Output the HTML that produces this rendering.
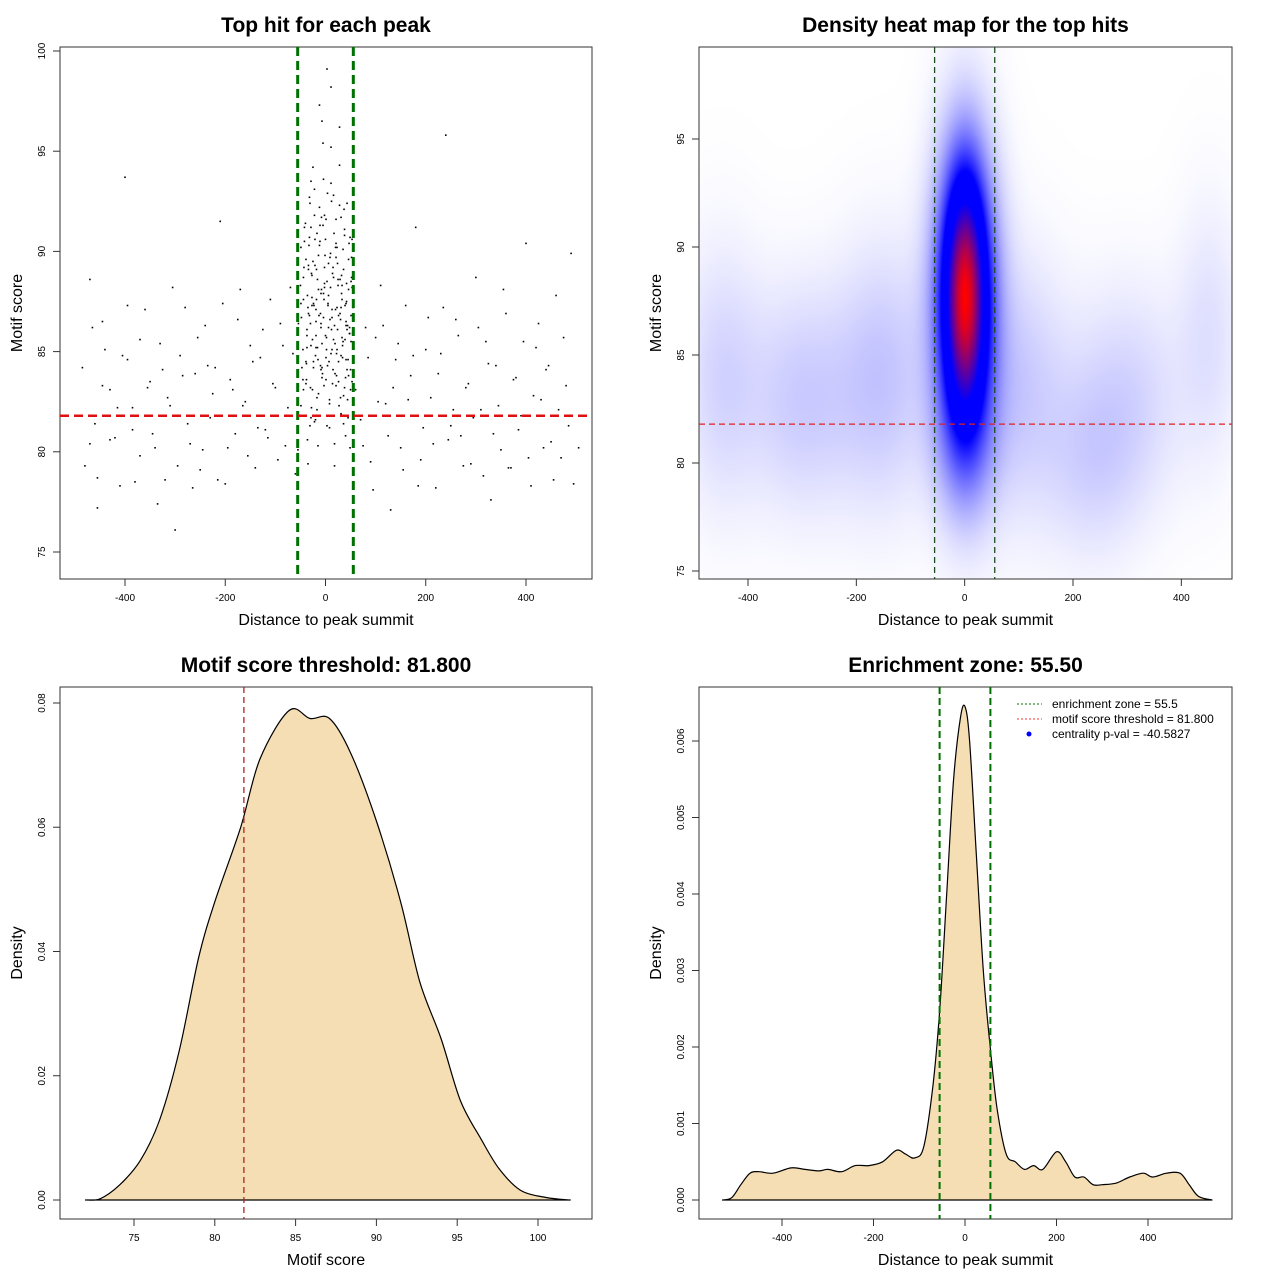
<!DOCTYPE html>
<html><head><meta charset="utf-8">
<style>
html,body{margin:0;padding:0;background:#fff;}
#wrap{position:relative;width:1280px;height:1280px;}
canvas{position:absolute;left:0;top:0;}
svg{position:absolute;left:0;top:0;}
text{font-family:"Liberation Sans",sans-serif;}
</style></head>
<body>
<div id="wrap">
<canvas id="heat" width="1280" height="1280"></canvas>
<svg id="svg" width="1280" height="1280" xmlns="http://www.w3.org/2000/svg"></svg>
</div>
<script>
// ---------- data ----------
const centerX1 = [-50,-45,-40,-38,-35,-32,-30,-28,-25,-22,-20,-18,-15,-12,-10,-8,-5,-3,0,2,5,8,10,12,15,18,20,22,25,28,30,32,35,38,40,42,45,48,50,52];
const centerY1 = [88.3,85.1,91.4,83.6,87.2,90.7,86.4,82.2,89.5,93.1,84.8,87.6,80.3,92.2,86.9,88.1,95.4,83.3,90.6,85.7,87.4,81.2,89.9,92.5,84.1,86.3,90.2,83.8,88.6,94.3,82.7,87.9,85.5,91.1,80.8,88.4,84.6,86.2,83.1,89.7];
const centerY1b = [86.7,89.2,84.4,87.8,90.3,83.2,88.9,85.6,87.3,81.6,89.1,85.2,86.8,84.3,91.7,83.9,87.6,89.8,85.1,92.9,84.5,88.2,86.1,83.4,90.9,87.1,84.9,89.4,82.3,86.6,88.8,85.3,92.1,83.7,87.5,86.3,90.4,84.1,88.7,85.9];
const centerX2 = [-47,-42,-37,-35,-32,-29,-27,-25,-22,-19,-17,-15,-12,-9,-7,-5,-2,0,3,5,8,11,13,15,18,21,23,25,28,31,33,35,38,41,43,45,48,51,53,55];
const centerY2 = [84.2,90.5,86.1,79.4,92.7,85.3,88.8,94.2,81.5,87.1,90.9,84.6,97.3,86.2,83.7,91.3,88.4,85.8,99.1,87.3,82.6,93.4,86.7,89.2,80.4,91.6,85.1,88.3,96.2,84.8,87.6,90.1,83.2,86.5,92.4,81.7,85.9,88.5,90.6,87.2];
const centerY2b = [87.4,83.1,89.6,85.2,86.9,81.3,91.2,87.7,84.5,89.3,85.8,82.7,88.1,90.5,86.4,84.2,87.9,91.8,83.6,88.5,86.2,89.7,84.9,87.1,92.8,85.4,83.3,90.2,86.8,88.6,81.9,85.7,89.1,87.3,84.6,86.1,83.8,90.7,85.5,88.2];
const centerX3 = [-54,-49,-44,-42,-39,-36,-34,-32,-29,-26,-24,-22,-19,-16,-14,-12,-9,-7,-4,-2,1,4,6,8,11,14,16,18,21,24,26,28,31,34,36,38,41,44,46,48];
const centerY3 = [86.4,82.3,88.7,91.2,84.5,80.6,89.3,86.8,93.5,83.1,87.4,91.8,85.2,88.6,82.9,90.3,84.1,96.5,86.7,89.2,91.6,84.3,87.8,82.4,95.2,88.9,85.6,79.3,89.7,86.1,83.5,92.3,87.2,84.7,81.4,90.8,86.3,82.6,88.1,85.9];
const centerX4 = [-49,-44,-39,-37,-34,-31,-29,-27,-24,-21,-19,-17,-14,-11,-9,-7,-4,-2,1,3,6,9,11,13,16,19,21,23,26,29,31,33,36,39,41,43,46,49,51,53];
const centerY4 = [90.2,87.6,83.4,85.8,89.1,92.4,81.7,87.3,84.2,90.6,86.5,82.1,89.8,91.3,87.9,85.4,93.6,88.2,84.7,81.3,89.4,86.6,98.2,85.1,88.7,83.9,90.4,87.2,84.5,86.9,91.7,88.3,82.8,85.6,87.4,84.1,89.6,80.2,86.8,83.5];
const bgX = [-485,-480,-470,-460,-455,-445,-430,-420,-410,-400,-395,-385,-370,-360,-350,-340,-330,-320,-310,-300,-290,-280,-270,-260,-250,-240,-230,-220,-210,-200,-190,-180,-170,-160,-150,-140,-130,-120,-110,-100,-90,-80,-70,-60,60,70,80,90,100,110,120,130,140,150,160,170,180,190,200,210,220,230,240,250,260,270,280,290,300,310,320,330,340,350,360,370,380,390,400,410,420,430,440,450,460,470,480,490];
const bgY = [84.2,79.3,88.6,81.4,77.2,86.5,83.1,80.7,78.3,93.7,84.6,82.2,79.8,87.1,83.5,80.2,85.4,78.6,82.3,76.1,84.8,87.2,80.4,83.9,79.1,86.3,81.7,84.2,91.5,78.4,83.6,80.9,88.1,82.5,85.3,79.2,84.7,81.1,87.6,83.2,86.4,80.3,88.2,78.9,83.1,81.6,86.2,79.5,85.7,88.3,82.4,77.1,84.6,80.2,87.3,83.8,91.2,79.6,85.1,82.7,78.2,84.9,95.8,81.3,86.6,80.8,83.2,79.4,88.7,82.1,85.5,77.6,84.3,80.1,86.9,79.2,83.7,81.8,90.4,78.3,85.2,82.6,84.1,80.5,87.8,79.7,83.3,89.9];
const bgY2 = [80.4,86.2,78.7,83.3,85.1,80.6,82.2,84.8,87.3,81.1,78.5,85.6,83.2,80.9,77.4,84.1,82.7,88.2,79.3,83.8,81.4,78.2,85.7,80.1,84.3,82.9,78.6,87.4,80.2,83.1,86.6,82.3,79.8,84.5,81.2,86.1,80.7,83.4,79.6,85.3,82.2,84.9,80.1,83.6,80.3,84.7,78.1,82.5,86.3,80.8,83.2,85.4,79.1,82.6,84.8,78.3,81.2,86.7,80.4,83.9,87.2,80.6,82.1,85.8,79.3,83.4,81.7,86.2,78.8,84.4,80.9,82.3,88.1,79.2,83.6,81.1,85.5,79.7,82.8,86.4,80.2,84.3,78.6,82.1,85.7,81.3,78.4,80.2];
// heatmap components
const blobX = [0, 0, -300, -150, 100, 300, 450, -450, 230, 0];
const blobY = [87.8, 87.5, 83, 84, 83.5, 83, 86, 84, 80, 81];
const blobSX = [24, 38, 70, 60, 60, 70, 40, 50, 60, 40];
const blobSY = [3.5, 4.6, 3.5, 4, 4, 3.5, 4, 4, 3, 2.5];
const blobW = [1.0, 0.65, 0.09, 0.1, 0.09, 0.07, 0.05, 0.07, 0.06, 0.12];
// motif score density
const scoreGrid = [72,72.9,74.1,75.4,76.6,77.8,79,80,81.6,82.8,84.6,85.9,87.1,88.4,90,91.5,92.7,94,95.2,96.5,97.6,98.9,100.5,102];
const scoreDens = [0,0.0002,0.0024,0.0064,0.013,0.024,0.039,0.048,0.06,0.071,0.0788,0.0775,0.0775,0.072,0.061,0.048,0.035,0.026,0.016,0.0097,0.005,0.0016,0.0004,0];
// distance density
const distGrid = [-530,-510,-490,-470,-450,-420,-380,-350,-320,-300,-270,-240,-210,-180,-150,-130,-110,-90,-70,-55,-40,-25,-10,0,10,25,40,55,70,90,110,130,150,170,200,220,240,260,280,300,330,360,390,410,440,470,490,510,540];
const distDens = [0,0.00003,0.0002,0.00035,0.00037,0.00035,0.00042,0.0004,0.00038,0.0004,0.00037,0.00045,0.00045,0.0005,0.00065,0.0006,0.00055,0.0007,0.0015,0.0025,0.004,0.0055,0.0063,0.00645,0.006,0.0045,0.003,0.002,0.0012,0.0006,0.0005,0.0004,0.00045,0.0004,0.00063,0.0005,0.0003,0.0003,0.0002,0.0002,0.00022,0.0003,0.00035,0.0003,0.00035,0.00035,0.0002,0.00005,0];
const zone = 55.5, threshold = 81.8;
const xTicksDist = [-400,-200,0,200,400];
const yTicksP1 = [75,80,85,90,95,100];
const yTicksP2 = [75,80,85,90,95];
const xTicksScore = [75,80,85,90,95,100];
const yTicksP3 = [0,0.02,0.04,0.06,0.08];
const yTicksP4 = [0,0.001,0.002,0.003,0.004,0.005,0.006];

// ---------- helpers ----------
const NS="http://www.w3.org/2000/svg";
const svg=document.getElementById('svg');
function el(tag,attrs,parent){const e=document.createElementNS(NS,tag);for(const k in attrs)e.setAttribute(k,attrs[k]);(parent||svg).appendChild(e);return e;}
function lin(d0,d1,r0,r1){return v=>r0+(v-d0)*(r1-r0)/(d1-d0);}
function smoothPath(pts){let d='M'+pts[0][0].toFixed(1)+','+pts[0][1].toFixed(1);
  for(let i=0;i<pts.length-1;i++){const p0=pts[Math.max(0,i-1)],p1=pts[i],p2=pts[i+1],p3=pts[Math.min(pts.length-1,i+2)];
    const c1=[p1[0]+(p2[0]-p0[0])/6,p1[1]+(p2[1]-p0[1])/6],c2=[p2[0]-(p3[0]-p1[0])/6,p2[1]-(p3[1]-p1[1])/6];
    d+=` C${c1[0].toFixed(1)},${c1[1].toFixed(1)} ${c2[0].toFixed(1)},${c2[1].toFixed(1)} ${p2[0].toFixed(1)},${p2[1].toFixed(1)}`;}
  return d;}
function panel(name,L,T,R,B,sx,sy,xt,yt,xfmt,yfmt,title,xlab,ylab){
  const g=el('g',{});
  
  
  const box=el('rect',{x:L,y:T,width:R-L,height:B-T,fill:'none',stroke:'#333','stroke-width':1},g);
  
  const xa=el('g',{},g);
  xt.forEach(v=>{const x=sx(v);el('line',{x1:x,x2:x,y1:B,y2:B+7,stroke:'#333'},xa);
    const t=el('text',{x:x,y:B+22,'font-size':10,'text-anchor':'middle',fill:'#000'},xa);t.textContent=xfmt(v);
    });
  const ya=el('g',{},g);
  yt.forEach(v=>{const y=sy(v);el('line',{x1:L-7,x2:L,y1:y,y2:y,stroke:'#333'},ya);
    const t=el('text',{x:L-15,y:y,'font-size':10,'text-anchor':'middle',fill:'#000',transform:`rotate(-90 ${L-15} ${y})`},ya);t.textContent=yfmt(v);
    });
  const tt=el('text',{x:(L+R)/2,y:T-15,'font-size':21,'font-weight':'bold','text-anchor':'middle'},g);tt.textContent=title;
  
  const xl=el('text',{x:(L+R)/2,y:B+46,'font-size':16,'text-anchor':'middle'},g);xl.textContent=xlab;
  
  const yx=L-38,yy=(T+B)/2;
  const yl=el('text',{x:yx,y:yy,'font-size':16,'text-anchor':'middle',transform:`rotate(-90 ${yx} ${yy})`},g);yl.textContent=ylab;
  
  return g;
}
const I=v=>String(v);

// ---------- panel 1 ----------
{
const L=60,T=47,R=592,B=579;
const sx=lin(-400,400,125,526), sy=lin(75,100,552,51);
const g=panel('scatter-panel',L,T,R,B,sx,sy,xTicksDist,yTicksP1,I,I,'Top hit for each peak','Distance to peak summit','Motif score');
const pts=el('g',{fill:'#000'},g);
const sets=[[centerX1,centerY1,0],[centerX1,centerY1b,2],[centerX2,centerY2,0],[centerX2,centerY2b,-2],[centerX3,centerY3,0],[centerX4,centerY4,0],[bgX,bgY,0],[bgX,bgY2,15]];
sets.forEach(([xs,ys,off])=>xs.forEach((x,i)=>{
  const p=el('rect',{x:sx(x+off)-0.8,y:sy(ys[i])-0.8,width:1.6,height:1.6},pts);
  }));
[-zone,zone].forEach(z=>{const l=el('line',{x1:sx(z),x2:sx(z),y1:T,y2:B,stroke:'#007000','stroke-width':3,'stroke-dasharray':'9,5'},g);
  });
const h=el('line',{x1:L,x2:R,y1:sy(threshold),y2:sy(threshold),stroke:'#e01010','stroke-width':2.5,'stroke-dasharray':'9,5'},g);

}

// ---------- panel 2 ----------
{
const L=699,T=47,R=1232,B=579;
const sx=lin(-400,200,748,1073), sy=lin(75,95,571,139);
const cv=document.getElementById('heat'),ctx=cv.getContext('2d');
const W=R-L,H=B-T,img=ctx.createImageData(W,H);
const vals=new Float32Array(W*H);let mx=0;
const ix=lin(748,1073,-400,200), iy=lin(571,139,75,95);
for(let j=0;j<H;j++){const yv=iy(T+j);for(let i=0;i<W;i++){const xv=ix(L+i);let s=0;
  for(let k=0;k<blobX.length;k++){const dx=(xv-blobX[k])/blobSX[k],dy=(yv-blobY[k])/blobSY[k];s+=blobW[k]*Math.exp(-0.5*(dx*dx+dy*dy));}
  vals[j*W+i]=s;if(s>mx)mx=s;}}
for(let p=0;p<W*H;p++){const t=vals[p]/mx;let r,g,b;
  if(t<0.32){const u=Math.pow(t/0.32,0.9);r=255*(1-u);g=255*(1-u);b=255;}
  else if(t<0.52){r=0;g=0;b=255;}
  else{const u=(t-0.52)/0.48;r=255*u;g=0;b=255*(1-u);}
  img.data[p*4]=r;img.data[p*4+1]=g;img.data[p*4+2]=b;img.data[p*4+3]=255;}
ctx.putImageData(img,L,T);
const g=panel('heatmap-panel',L,T,R,B,sx,sy,xTicksDist,yTicksP2,I,I,'Density heat map for the top hits','Distance to peak summit','Motif score');
[-zone,zone].forEach(z=>{const l=el('line',{x1:sx(z),x2:sx(z),y1:T,y2:B,stroke:'#1d4d1d','stroke-width':1.3,'stroke-dasharray':'6,4'},g);
  });
const h=el('line',{x1:L,x2:R,y1:sy(threshold),y2:sy(threshold),stroke:'#e02020','stroke-width':1.3,'stroke-dasharray':'6,4'},g);

}

// ---------- panel 3 ----------
{
const L=60,T=687,R=592,B=1219;
const sx=lin(75,100,134,538), sy=lin(0,0.08,1200,703);
const g=panel('score-density-panel',L,T,R,B,sx,sy,xTicksScore,yTicksP3,I,v=>v.toFixed(2),'Motif score threshold: 81.800','Motif score','Density');
const d=smoothPath(scoreGrid.map((x,i)=>[sx(x),sy(scoreDens[i])]))+' Z';
const a=el('path',{d:d,fill:'#f5deb3',stroke:'#000','stroke-width':1.2,'stroke-linejoin':'round'},g);

const v=el('line',{x1:sx(threshold),x2:sx(threshold),y1:T,y2:B,stroke:'#b22222','stroke-width':1.3,'stroke-dasharray':'6,4'},g);

}

// ---------- panel 4 ----------
{
const L=699,T=687,R=1232,B=1219;
const sx=lin(-400,400,782,1148), sy=lin(0,0.006,1200,741);
const g=panel('distance-density-panel',L,T,R,B,sx,sy,xTicksDist,yTicksP4,I,v=>v.toFixed(3),'Enrichment zone: 55.50','Distance to peak summit','Density');
const d=smoothPath(distGrid.map((x,i)=>[sx(x),sy(distDens[i])]))+' Z';
const a=el('path',{d:d,fill:'#f5deb3',stroke:'#000','stroke-width':1.2,'stroke-linejoin':'round'},g);

[-zone,zone].forEach(z=>{const l=el('line',{x1:sx(z),x2:sx(z),y1:T,y2:B,stroke:'#007000','stroke-width':2,'stroke-dasharray':'7,4'},g);
  });
const lg=el('g',{},g);
const items=[['enrichment zone = 55.5','#007000','line'],['motif score threshold = 81.800','#ff3030','line'],['centrality p-val = -40.5827','#0000ff','dot']];
items.forEach((it,i)=>{const y=704+i*15;
  const e=el('g',{},lg);
  if(it[2]==='line')el('line',{x1:1017,x2:1042,y1:y,y2:y,stroke:it[1],'stroke-width':1,'stroke-dasharray':'2,2'},e);
  else el('circle',{cx:1029,cy:y,r:2.5,fill:it[1]},e);
  const t=el('text',{x:1052,y:y+4,'font-size':12},e);t.textContent=it[0];});
}
</script>
</body></html>
